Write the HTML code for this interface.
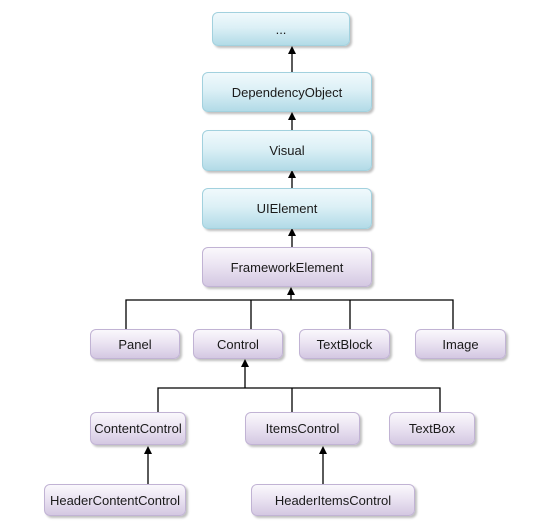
<!DOCTYPE html>
<html><head><meta charset="utf-8"><style>
html,body{margin:0;padding:0;background:#fff;}
body{width:549px;height:531px;position:relative;overflow:hidden;font-family:"Liberation Sans",sans-serif;}
.b{position:absolute;box-sizing:border-box;border-radius:6px;display:flex;align-items:center;justify-content:center;font-size:13px;color:#1a1a1a;box-shadow:2px 2px 2px rgba(0,0,0,0.25);}
.bl{background:linear-gradient(#f0f9fc,#dcf0f6 45%,#b2dbe7);border:1px solid #a2d1de;}
.pu{background:linear-gradient(#faf8fc,#ebe4f2 45%,#d4c8e2);border:1px solid #c1b3d4;}
svg{position:absolute;left:0;top:0;}
</style></head><body>
<svg width="549" height="531">
<g stroke="#000" stroke-width="1.3" fill="none">
<line x1="292" y1="72" x2="292" y2="52"/>
<line x1="292" y1="130" x2="292" y2="118"/>
<line x1="292" y1="188" x2="292" y2="176"/>
<line x1="292" y1="247" x2="292" y2="234"/>
<line x1="291" y1="300" x2="291" y2="292"/>
<polyline points="126,329 126,300 453,300 453,329"/>
<line x1="251" y1="300" x2="251" y2="329"/>
<line x1="350" y1="300" x2="350" y2="329"/>
<line x1="245" y1="388" x2="245" y2="364"/>
<polyline points="158,412 158,388 440,388 440,412"/>
<line x1="292" y1="388" x2="292" y2="412"/>
<line x1="148" y1="484" x2="148" y2="451"/>
<line x1="323" y1="484" x2="323" y2="451"/>
</g>
<g fill="#000">
<polygon points="288,54 296,54 292,46"/>
<polygon points="288,120 296,120 292,112"/>
<polygon points="288,178 296,178 292,170"/>
<polygon points="288,236 296,236 292,228"/>
<polygon points="287,295 295,295 291,287"/>
<polygon points="241,367 249,367 245,359"/>
<polygon points="144,454 152,454 148,446"/>
<polygon points="319,454 327,454 323,446"/>
</g></svg>
<div class="b bl" style="left:212px;top:12px;width:138px;height:34px;">...</div>
<div class="b bl" style="left:202px;top:72px;width:170px;height:40px;">DependencyObject</div>
<div class="b bl" style="left:202px;top:130px;width:170px;height:41px;">Visual</div>
<div class="b bl" style="left:202px;top:188px;width:170px;height:41px;">UIElement</div>
<div class="b pu" style="left:202px;top:247px;width:170px;height:40px;">FrameworkElement</div>
<div class="b pu" style="left:90px;top:329px;width:90px;height:30px;">Panel</div>
<div class="b pu" style="left:193px;top:329px;width:90px;height:30px;">Control</div>
<div class="b pu" style="left:299px;top:329px;width:91px;height:30px;">TextBlock</div>
<div class="b pu" style="left:415px;top:329px;width:91px;height:30px;">Image</div>
<div class="b pu" style="left:90px;top:412px;width:96px;height:33px;">ContentControl</div>
<div class="b pu" style="left:245px;top:412px;width:115px;height:33px;">ItemsControl</div>
<div class="b pu" style="left:389px;top:412px;width:86px;height:33px;">TextBox</div>
<div class="b pu" style="left:44px;top:484px;width:142px;height:32px;">HeaderContentControl</div>
<div class="b pu" style="left:251px;top:484px;width:164px;height:32px;">HeaderItemsControl</div>
</body></html>
